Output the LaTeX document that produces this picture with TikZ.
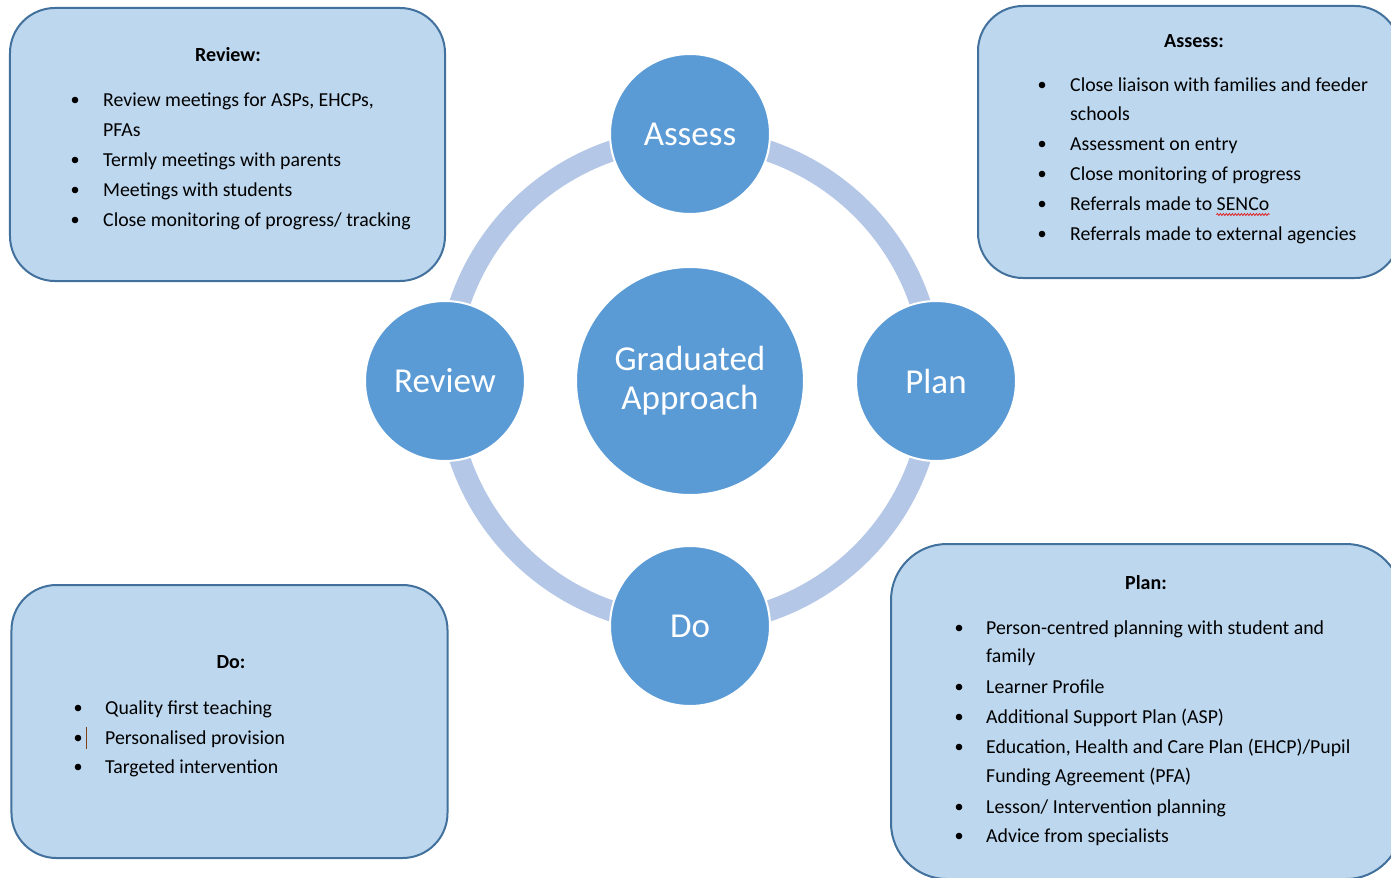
\documentclass[tikz,border=0pt]{standalone}
\usepackage{fontspec}
\setmainfont{Carlito}
\usetikzlibrary{decorations.pathmorphing}
\definecolor{circfill}{HTML}{5B9BD5}
\definecolor{ringc}{HTML}{B4C7E7}
\definecolor{boxfill}{HTML}{BDD7EE}
\definecolor{boxdraw}{HTML}{41719C}
\definecolor{cursorc}{HTML}{7F3F10}
\definecolor{spellred}{HTML}{E02020}
\tikzset{
  ringline/.style={draw=ringc, line width=21bp},
  stage/.style={circle, fill=circfill, draw=white, line width=2bp, minimum size=160bp, inner sep=0pt, text=white, font=\fontsize{35bp}{39bp}\selectfont},
  hub/.style={stage, minimum size=228bp, align=center},
  infobox/.style={rectangle, fill=boxfill, draw=boxdraw, line width=2bp, rounded corners=45bp, inner sep=0pt},
  hdr/.style={anchor=base, inner sep=0pt, font=\fontsize{20bp}{30bp}\selectfont\bfseries},
  txt/.style={anchor=base west, inner sep=0pt, font=\fontsize{19.8bp}{30bp}\selectfont},
  bul/.style={fill=black},
}
\begin{document}
\begin{tikzpicture}[x=1bp,y=-1bp]
\useasboundingbox (0,0) rectangle (1391,877);
\fill[white] (0,0) rectangle (1391,877);

% ring and circles
\draw[ringline] (690,381) circle[radius=243bp];
\node[stage] (assess) at (690,134) {Assess};
\node[stage] (review) at (445,381) {Review};
\node[stage] (plan) at (936,381) {Plan};
\node[stage] (do) at (690,626) {Do};
\node[hub] (hub) at (690,381) {Graduated\\Approach};

% boxes
\node[infobox, minimum width=435bp, minimum height=273bp] (reviewbox) at (227.5,144.5) {};
\node[infobox, minimum width=422bp, minimum height=272bp] (assessbox) at (1189,142) {};
\node[infobox, minimum width=436bp, minimum height=273bp] (dobox) at (229.5,721.5) {};
\node[infobox, minimum width=511bp, minimum height=335bp, rounded corners=56bp] (planbox) at (1146.5,711.5) {};

% Review text
\node[hdr] (rh) at (228,61) {Review:};
\foreach \y in {106,166,196,226} \fill[bul] (75,\y-6) circle[radius=3.3bp];
\node[txt] (r1) at (103,106) {Review meetings for ASPs, EHCPs,};
\node[txt] (r1b) at (103,136) {PFAs};
\node[txt] (r2) at (103,166) {Termly meetings with parents};
\node[txt] (r3) at (103,196) {Meetings with students};
\node[txt] (r4) at (103,226) {Close monitoring of progress/ tracking};

% Assess text
\node[hdr] (ah) at (1194,47) {Assess:};
\foreach \y in {91,150,180,210,240} \fill[bul] (1042,\y-6) circle[radius=3.3bp];
\node[txt] (a1) at (1070,91) {Close liaison with families and feeder};
\node[txt] (a1b) at (1070,120) {schools};
\node[txt] (a2) at (1070,150) {Assessment on entry};
\node[txt] (a3) at (1070,180) {Close monitoring of progress};
\node[txt] (a4) at (1070,210) {Referrals made to SENCo};
\node[txt] (a5) at (1070,240) {Referrals made to external agencies};
\draw[spellred, line width=0.8bp, decorate, decoration={snake, amplitude=1bp, segment length=3bp}]
  ([xshift=-53bp,yshift=-4.5bp]a4.base east) -- ([yshift=-4.5bp]a4.base east);

% Do text
\node[hdr] (dh) at (231,668) {Do:};
\foreach \y in {714,744,773} \fill[bul] (78,\y-6) circle[radius=3.3bp];
\node[txt] (d1) at (105,714) {Quality first teaching};
\node[txt] (d2) at (105,744) {Personalised provision};
\node[txt] (d3) at (105,773) {Targeted intervention};
\draw[cursorc, line width=1bp] (86.5,727) -- (86.5,749);

% Plan text
\node[hdr] (ph) at (1146,589) {Plan:};
\foreach \y in {634,693,723,753,813,842} \fill[bul] (959,\y-6) circle[radius=3.3bp];
\node[txt] (p1) at (986,634) {Person-centred planning with student and};
\node[txt] (p1b) at (986,662) {family};
\node[txt] (p2) at (986,693) {Learner Profile};
\node[txt] (p3) at (986,723) {Additional Support Plan (ASP)};
\node[txt] (p4) at (986,753) {Education, Health and Care Plan (EHCP)/Pupil};
\node[txt] (p4b) at (986,782) {Funding Agreement (PFA)};
\node[txt] (p5) at (986,813) {Lesson/ Intervention planning};
\node[txt] (p6) at (986,842) {Advice from specialists};
\end{tikzpicture}
\end{document}
